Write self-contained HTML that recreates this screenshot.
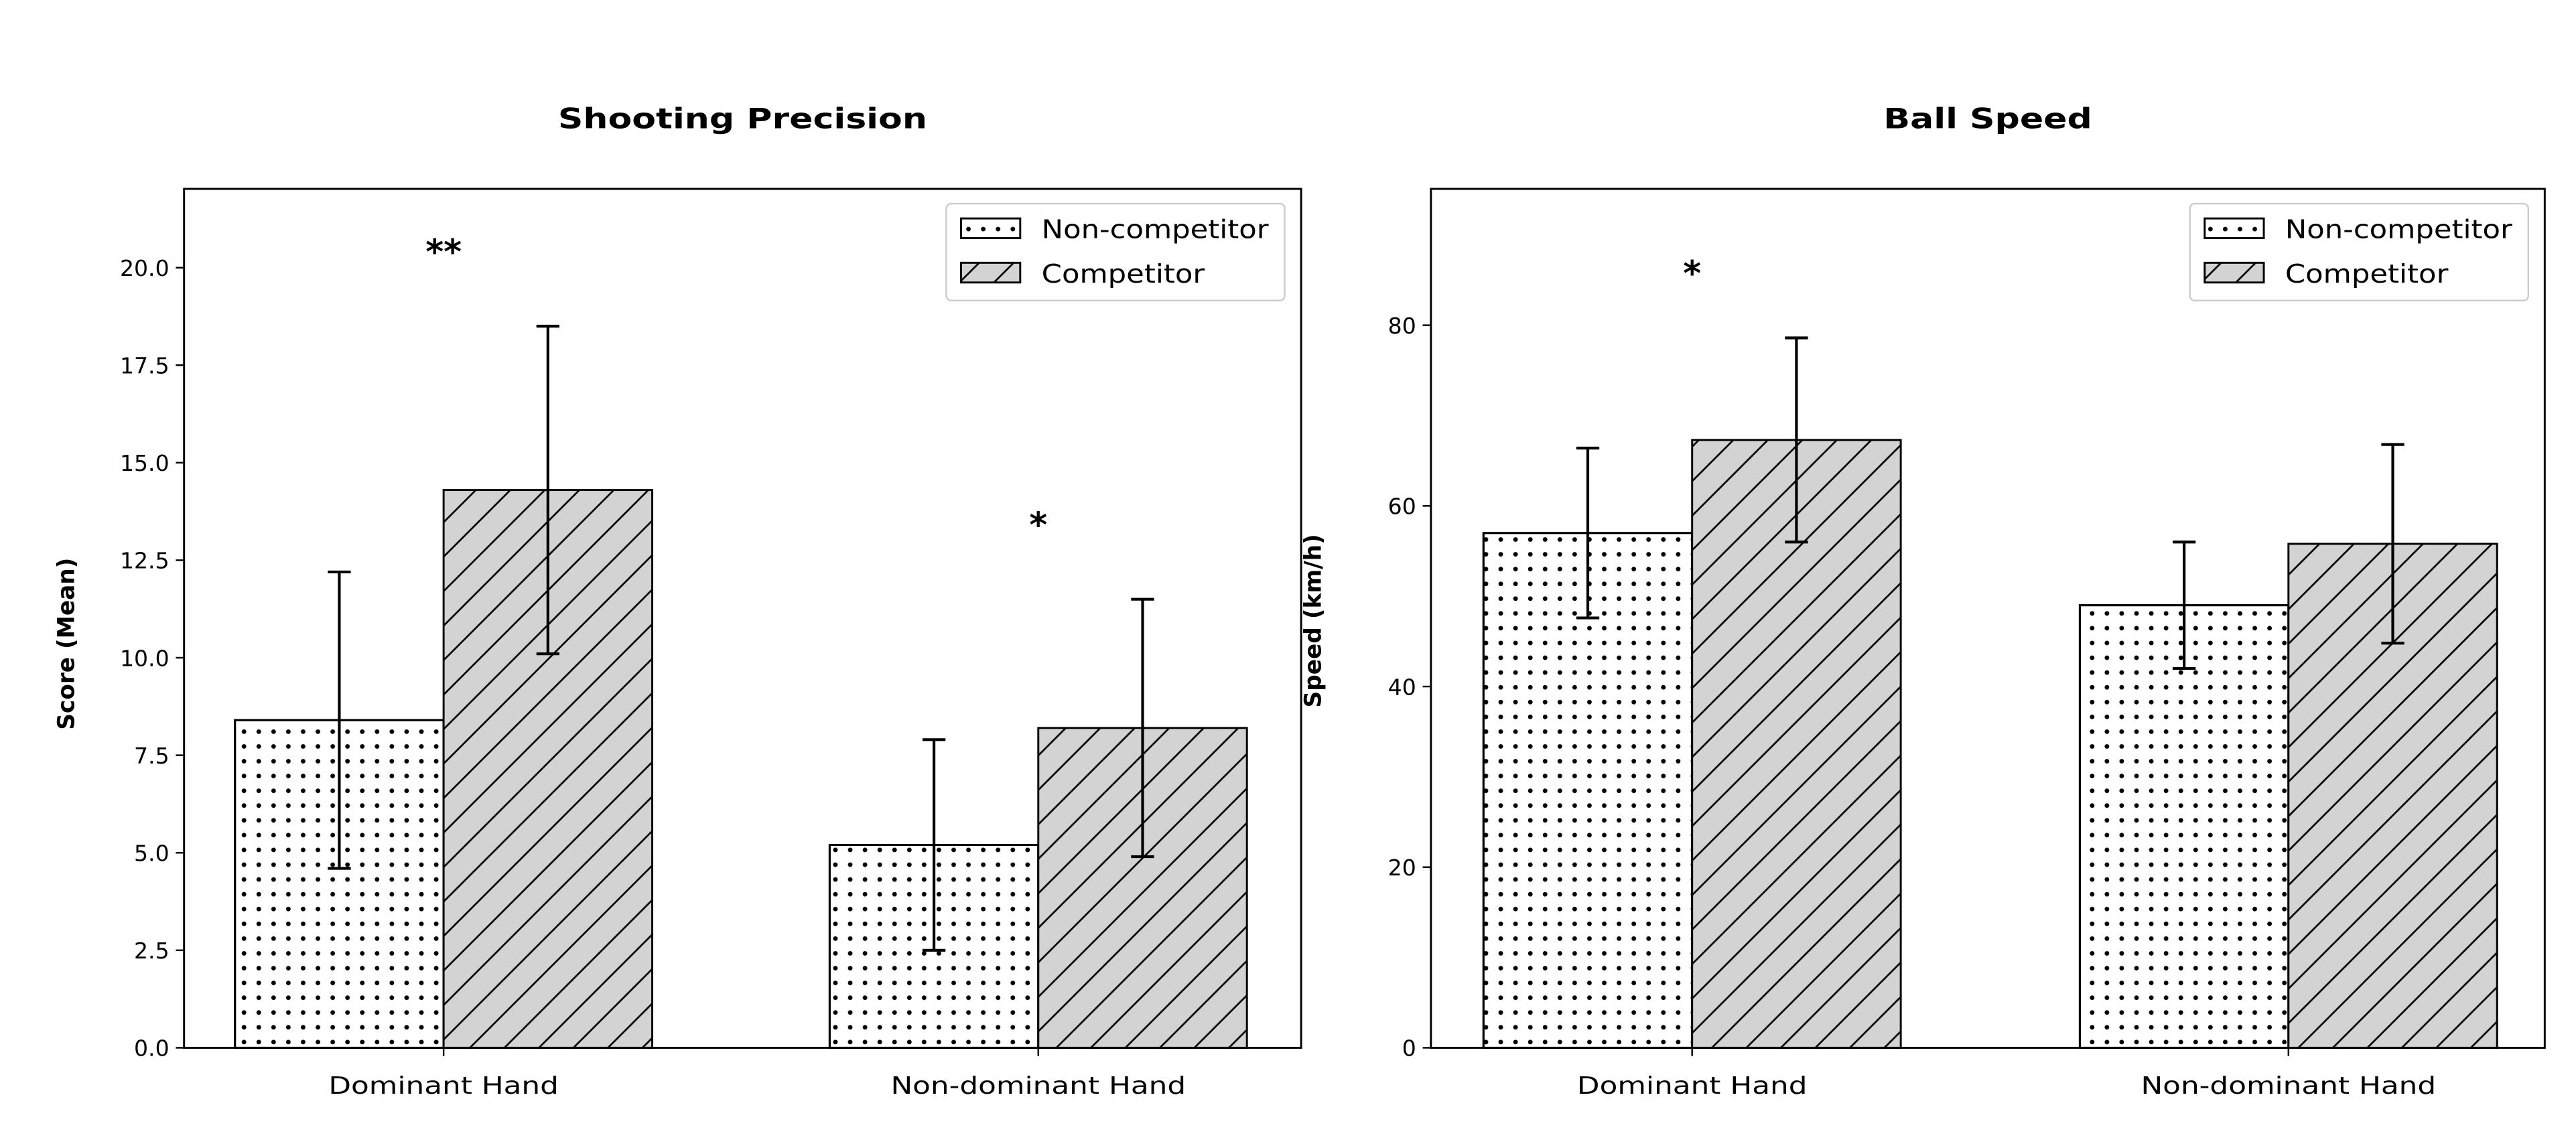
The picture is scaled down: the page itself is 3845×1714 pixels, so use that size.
<!DOCTYPE html>
<html><head><meta charset="utf-8"><style>
html,body{margin:0;padding:0;background:#fff;}
svg{display:block;}
text{font-family:"DejaVu Sans","Liberation Sans",sans-serif;fill:#000;}
</style></head><body>
<svg id="chart" xmlns="http://www.w3.org/2000/svg" width="3845" height="1714" viewBox="0 0 1568 699">
<defs>
<pattern id="dots" patternUnits="userSpaceOnUse" width="9" height="9"><circle cx="4.5" cy="4.5" r="1.4" fill="#000"/></pattern>
<pattern id="hatch" patternUnits="userSpaceOnUse" width="21" height="21"><rect width="21" height="21" fill="#d3d3d3"/><path d="M-2,23 L23,-2 M-2,2 L2,-2 M19,23 L23,19" stroke="#000" stroke-width="1.1"/></pattern>
</defs>
<g id="root"></g>
</svg>
<script>
const categories = ["Dominant Hand", "Non-dominant Hand"];
const seriesNames = ["Non-competitor", "Competitor"];
const precisionMeans = [[8.4, 5.2], [14.3, 8.2]];
const precisionErr = [[3.8, 2.7], [4.2, 3.3]];
const precisionTicks = ["0.0","2.5","5.0","7.5","10.0","12.5","15.0","17.5","20.0"];
const precisionStars = ["**", "*"];
const speedMeans = [[57.0, 49.0], [67.3, 55.8]];
const speedErr = [[9.4, 7.0], [11.3, 11.0]];
const speedTicks = ["0","20","40","60","80"];
const speedStars = ["*", ""];

const NS = "http://www.w3.org/2000/svg";
const root = document.getElementById("root");
function mk(tag, attrs, parent){const e=document.createElementNS(NS,tag);for(const k in attrs)e.setAttribute(k,attrs[k]);(parent||root).appendChild(e);return e;}
function stretch(el, f){const w=el.getComputedTextLength();el.setAttribute("textLength",(w*f).toFixed(1));el.setAttribute("lengthAdjust","spacingAndGlyphs");}

function panel(o){
  const g = mk("g",{});
  
  
  const y = v => o.bottom - (v - 0) / o.ymax * (o.bottom - o.top);
  const xc = i => o.c0 + i * o.spacing;
  const bw = o.bw;
  const t = mk("text",{x:(o.left+o.right)/2,y:78,"text-anchor":"middle","font-size":"17","font-weight":"bold"},g);
  t.textContent = o.title;
  
  
  stretch(t,1.25);
  for(let s=0;s<2;s++){
    for(let i=0;i<categories.length;i++){
      const v=o.means[s][i];
      const x0 = s===0 ? xc(i)-bw : xc(i);
      const r = mk("rect",{x:x0,y:y(v),width:bw,height:o.bottom-y(v),fill:s===0?"#fff":"url(#hatch)",stroke:"#000","stroke-width":"1.2"},g);
      
      
      if(s===0){ const d=mk("rect",{x:x0,y:y(v),width:bw,height:o.bottom-y(v),fill:"url(#dots)",stroke:"#000","stroke-width":"1.2"},g);
        
         }
    }
  }
  for(let s=0;s<2;s++){
    for(let i=0;i<categories.length;i++){
      const cx = xc(i) + (s===0?-bw/2:bw/2);
      const v=o.means[s][i], e=o.errs[s][i];
      const eg = mk("g",{stroke:"#000","stroke-width":"1.7"},g);
      
      
      mk("line",{x1:cx,x2:cx,y1:y(v-e),y2:y(v+e)},eg);
      mk("line",{x1:cx-7,x2:cx+7,y1:y(v-e),y2:y(v-e)},eg);
      mk("line",{x1:cx-7,x2:cx+7,y1:y(v+e),y2:y(v+e)},eg);
    }
  }
  for(let i=0;i<categories.length;i++){
    if(!o.stars[i]) continue;
    const top = Math.max(o.means[0][i]+o.errs[0][i], o.means[1][i]+o.errs[1][i]);
    const st = mk("text",{x:xc(i),y:y(top)-o.starOff,"text-anchor":"middle","font-size":"21","font-weight":"bold"},g);
    st.textContent = o.stars[i];
    
    
  }
  const fr = mk("rect",{x:o.left,y:o.top,width:o.right-o.left,height:o.bottom-o.top,fill:"none",stroke:"#000","stroke-width":"1.2"},g);
  
  
  o.ticks.forEach(lbl=>{
    const v=parseFloat(lbl), yy=y(v);
    mk("line",{x1:o.left-5,x2:o.left,y1:yy,y2:yy,stroke:"#000","stroke-width":"1"},g);
    const tt=mk("text",{x:o.left-9,y:yy+5,"text-anchor":"end","font-size":"13.5"},g);
    tt.textContent=lbl;
    
    
  });
  categories.forEach((c,i)=>{
    mk("line",{x1:xc(i),x2:xc(i),y1:o.bottom,y2:o.bottom+5,stroke:"#000","stroke-width":"1"},g);
    const tt=mk("text",{x:xc(i),y:o.bottom+28,"text-anchor":"middle","font-size":"14.5"},g);
    tt.textContent=c;
    
    
    stretch(tt,1.23);
  });
  const yl=mk("text",{x:0,y:0,"text-anchor":"middle","font-size":"14","font-weight":"bold",transform:`translate(${o.left-67},${o.ylabelY}) rotate(-90)`},g);
  yl.textContent=o.ylabel;
  
  
  const lx=o.right-216, ly=124;
  const lg=mk("g",{},g);
  
  
  mk("rect",{x:lx,y:ly,width:206,height:59,rx:3,fill:"#fff",stroke:"#ccc","stroke-width":"1"},lg);
  seriesNames.forEach((n,s)=>{
    const ey=ly+9+s*27;
    const sw=mk("rect",{x:lx+9,y:ey,width:36,height:12,fill:s===0?"url(#dots)":"url(#hatch)",stroke:"#000","stroke-width":"1.2"},lg);
    
    
    const lt=mk("text",{x:lx+58,y:ey+12,"font-size":"15.5"},lg);
    lt.textContent=n;
    
    
    stretch(lt,1.14);
  });
}

panel({name:"shooting-precision-panel",title:"Shooting Precision",left:112,right:792,top:115,bottom:638,ymax:22.02,c0:270,spacing:362,bw:127,
  means:precisionMeans,errs:precisionErr,ticks:precisionTicks,stars:precisionStars,starOff:38,ylabel:"Score (Mean)",ylabelY:392});
panel({name:"ball-speed-panel",title:"Ball Speed",left:871,right:1549,top:115,bottom:638,ymax:95.1,c0:1030,spacing:363,bw:127,
  means:speedMeans,errs:speedErr,ticks:speedTicks,stars:speedStars,starOff:32,ylabel:"Speed (km/h)",ylabelY:378});
</script>
</body></html>
